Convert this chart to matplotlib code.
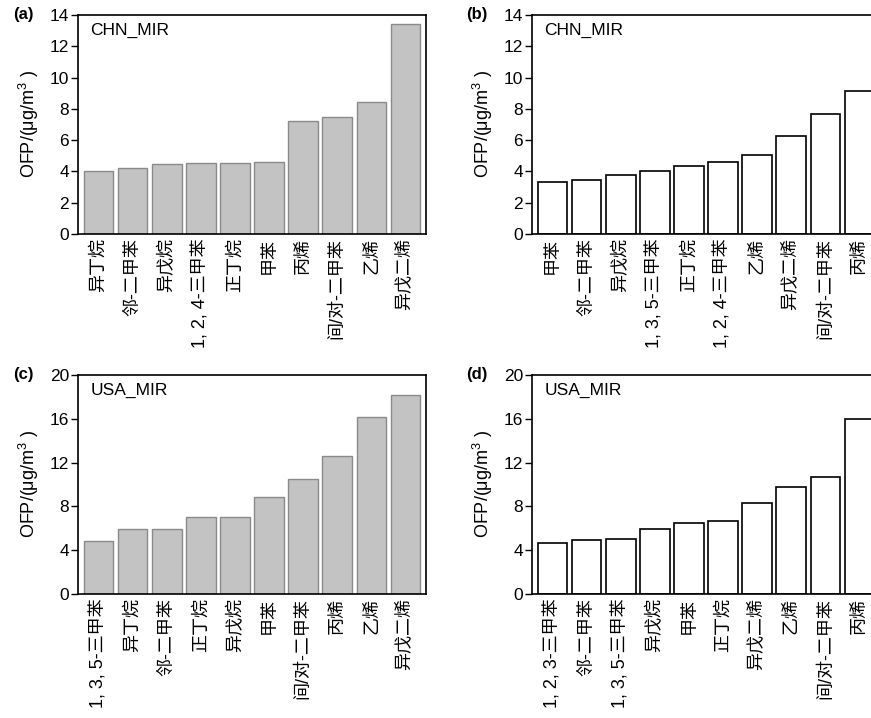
"""
OFP of the top-10 VOC species, CHN_MIR vs USA_MIR (four panels)
"""

import matplotlib
matplotlib.use('Agg')
import matplotlib.pyplot as plt  # pylint: disable=wrong-import-position

plt.rcParams['font.family'] = ['Liberation Sans', 'Noto Sans CJK SC', 'DejaVu Sans']
plt.rcParams['mathtext.fontset'] = 'custom'
plt.rcParams['mathtext.rm'] = 'Liberation Sans'

# Panel (a): CHN_MIR, grey bars
a_labels = ['异丁烷', '邻-二甲苯', '异戊烷', '1, 2, 4-三甲苯', '正丁烷',
            '甲苯', '丙烯', '间/对-二甲苯', '乙烯', '异戊二烯']
a_values = [4.02, 4.23, 4.45, 4.53, 4.53, 4.62, 7.23, 7.45, 8.43, 13.43]

# Panel (b): CHN_MIR, white bars
b_labels = ['甲苯', '邻-二甲苯', '异戊烷', '1, 3, 5-三甲苯', '正丁烷',
            '1, 2, 4-三甲苯', '乙烯', '异戊二烯', '间/对-二甲苯', '丙烯']
b_values = [3.32, 3.45, 3.74, 4.02, 4.36, 4.62, 5.04, 6.26, 7.66, 9.15]

# Panel (c): USA_MIR, grey bars
c_labels = ['1, 3, 5-三甲苯', '异丁烷', '邻-二甲苯', '正丁烷', '异戊烷',
            '甲苯', '间/对-二甲苯', '丙烯', '乙烯', '异戊二烯']
c_values = [4.83, 5.93, 5.93, 7.02, 7.02, 8.87, 10.46, 12.64, 16.14, 18.18]

# Panel (d): USA_MIR, white bars
d_labels = ['1, 2, 3-三甲苯', '邻-二甲苯', '1, 3, 5-三甲苯', '异戊烷', '甲苯',
            '正丁烷', '异戊二烯', '乙烯', '间/对-二甲苯', '丙烯']
d_values = [4.65, 4.92, 5.02, 5.93, 6.44, 6.63, 8.33, 9.73, 10.64, 16.02]

panels = [
    ('(a)', 'CHN_MIR', a_labels, a_values, 14, 2, True),
    ('(b)', 'CHN_MIR', b_labels, b_values, 14, 2, False),
    ('(c)', 'USA_MIR', c_labels, c_values, 20, 4, True),
    ('(d)', 'USA_MIR', d_labels, d_values, 20, 4, False),
]

fig = plt.figure(figsize=(8.71, 7.18), dpi=100)
W, H = 871, 718
ax_w, ax_h = 348, 219
positions = [(78, 15), (532, 15), (78, 375), (532, 375)]

for (tag, note, labels, values, ymax, ystep, grey), (px, py) in zip(panels, positions):
    ax = fig.add_axes([px / W, 1 - (py + ax_h) / H, ax_w / W, ax_h / H])
    x = range(len(values))
    if grey:
        ax.bar(x, values, width=0.87, color='#c3c3c3', edgecolor='#8a8a8a', linewidth=1.0)
    else:
        ax.bar(x, values, width=0.87, color='white', edgecolor='black', linewidth=1.2)
    ax.set_xlim(-0.6, 9.6)
    ax.set_ylim(0, ymax)
    ax.set_yticks(range(0, ymax + 1, ystep))
    ax.set_xticks(list(x))
    ax.set_xticklabels(labels, rotation=90, fontsize=13)
    ax.tick_params(axis='x', length=0, pad=3)
    ax.tick_params(axis='y', direction='out', length=5, width=1.0, labelsize=12.5, pad=1.5)
    for s in ax.spines.values():
        s.set_linewidth(1.2)
    ax.set_ylabel(r'OFP/(μg/m$^{3}$ )', fontsize=13, labelpad=6)
    ax.text(0.035, 0.93, note, transform=ax.transAxes, fontsize=12.5, va='center', ha='left')
    fig.text((px - 55) / W, 1 - py / H, tag, fontsize=12, fontweight='bold',
             ha='center', va='center')

fig.savefig('out.png', dpi=100)
plt.close(fig)
